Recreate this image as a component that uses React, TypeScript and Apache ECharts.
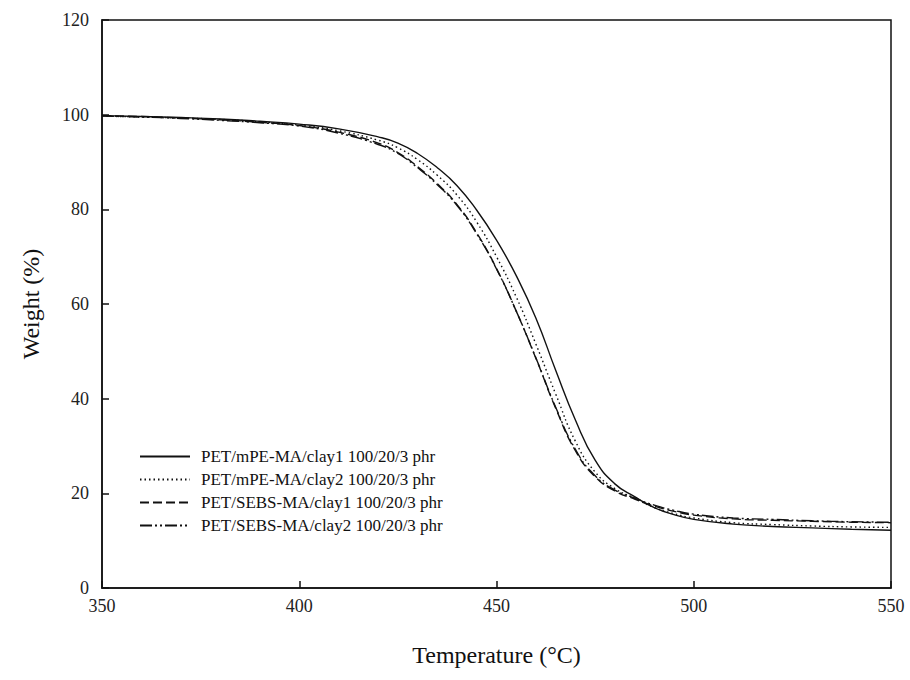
import React, { useEffect, useRef } from "react";
import * as echarts from "echarts";

const temps = [350, 360, 370, 380, 390, 400, 410, 420, 425, 430, 435, 440, 445, 450, 455, 460, 465, 470, 475, 480, 485, 490, 495, 500, 510, 520, 530, 540, 550];

const mpeClay1 = [99.8, 99.6, 99.4, 99.1, 98.6, 98.0, 97.0, 95.3, 94.0, 91.8, 88.8, 85.0, 79.8, 73.5, 66.0, 57.0, 46.0, 35.5, 27.0, 22.0, 19.3, 17.0, 15.5, 14.5, 13.5, 13.0, 12.7, 12.4, 12.2];
const mpeClay2 = [99.7, 99.5, 99.3, 99.0, 98.5, 97.8, 96.6, 94.6, 93.0, 90.5, 87.2, 83.0, 77.3, 70.0, 61.5, 51.5, 41.0, 31.0, 24.5, 21.0, 19.0, 17.0, 15.7, 14.8, 13.8, 13.4, 13.1, 12.9, 12.8];
const sebsClay1 = [99.8, 99.6, 99.3, 98.9, 98.4, 97.7, 96.3, 94.0, 92.0, 89.0, 85.4, 81.0, 75.0, 67.5, 58.5, 48.5, 38.0, 29.0, 23.5, 20.5, 18.8, 17.3, 16.2, 15.4, 14.6, 14.3, 14.1, 13.9, 13.8];
const sebsClay2 = [99.7, 99.5, 99.2, 98.8, 98.3, 97.6, 96.1, 93.7, 91.8, 88.8, 85.2, 80.8, 74.8, 67.4, 58.5, 48.6, 38.2, 29.3, 23.7, 20.7, 19.0, 17.5, 16.4, 15.6, 14.8, 14.5, 14.2, 14.0, 13.9];

const seriesNames = [
  "PET/mPE-MA/clay1 100/20/3 phr",
  "PET/mPE-MA/clay2 100/20/3 phr",
  "PET/SEBS-MA/clay1 100/20/3 phr",
  "PET/SEBS-MA/clay2 100/20/3 phr",
];
const seriesValues = [mpeClay1, mpeClay2, sebsClay1, sebsClay2];
const dashTypes: any[] = ["solid", [1.5, 3], [9, 4], [12, 3, 2, 3, 2, 3]];

const FONT = "Liberation Serif";

export default function App() {
  const ref = useRef<HTMLDivElement>(null);
  useEffect(() => {
    if (!ref.current) return;
    const chart = echarts.init(ref.current, undefined, { renderer: "svg" });
    chart.setOption({
      animation: false,
      backgroundColor: "#fff",
      grid: {
        left: 102,
        right: 19,
        top: 20,
        bottom: 92,
        show: true,
        borderColor: "#111",
        borderWidth: 1.5,
        backgroundColor: "transparent",
      },
      legend: {
        orient: "vertical",
        left: 139,
        top: 448,
        padding: 0,
        itemWidth: 50,
        itemHeight: 12,
        itemGap: 6,
        itemStyle: { opacity: 0 },
        textStyle: { fontFamily: FONT, fontSize: 17, color: "#111", padding: [0, 0, 0, 6] },
        data: seriesNames,
      },
      xAxis: {
        type: "value",
        min: 350,
        max: 550,
        interval: 50,
        name: "Temperature (°C)",
        nameLocation: "middle",
        nameGap: 55,
        nameTextStyle: { fontFamily: FONT, fontSize: 24, color: "#111" },
        axisLine: { show: true, lineStyle: { color: "#111", width: 1.5 } },
        axisTick: { show: true, inside: true, length: 7, lineStyle: { color: "#111", width: 1.5 } },
        axisLabel: { fontFamily: FONT, fontSize: 18, color: "#222", margin: 9 },
        splitLine: { show: false },
      },
      yAxis: {
        type: "value",
        min: 0,
        max: 120,
        interval: 20,
        name: "Weight (%)",
        nameLocation: "middle",
        nameGap: 59,
        nameTextStyle: { fontFamily: FONT, fontSize: 24, color: "#111" },
        axisLine: { show: true, lineStyle: { color: "#111", width: 1.5 } },
        axisTick: { show: true, inside: true, length: 7, lineStyle: { color: "#111", width: 1.5 } },
        axisLabel: { fontFamily: FONT, fontSize: 18, color: "#222", margin: 13 },
        splitLine: { show: false },
      },
      series: seriesNames.map((name, i) => ({
        name,
        type: "line",
        data: temps.map((t, j) => [t, seriesValues[i][j]]),
        smooth: 0.5,
        showSymbol: false,
        symbol: "none",
        lineStyle: { color: "#111", width: 1.4, type: dashTypes[i] },
        itemStyle: { color: "#111" },
      })),
    });
    return () => chart.dispose();
  }, []);
  return (
    <div
      ref={ref}
      style={{ position: "absolute", left: 0, top: 0, width: 910, height: 680 }}
    />
  );
}
